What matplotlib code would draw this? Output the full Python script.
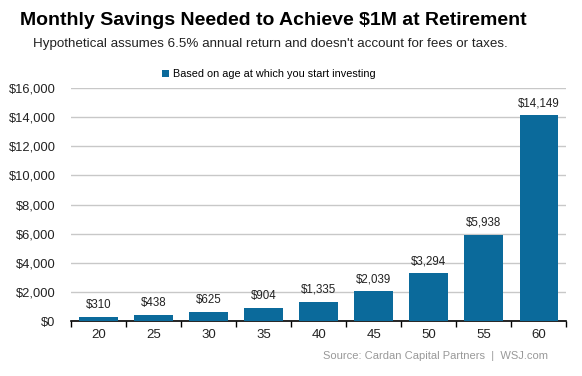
import numpy as np
import matplotlib.pyplot as plt
from matplotlib.ticker import FuncFormatter, FixedLocator

plt.rcParams['font.family'] = ['Liberation Sans', 'DejaVu Sans']

ages = ["20", "25", "30", "35", "40", "45", "50", "55", "60"]
savings = [310, 438, 625, 904, 1335, 2039, 3294, 5938, 14149]
y_ticks = [0, 2000, 4000, 6000, 8000, 10000, 12000, 14000, 16000]

bar_color = "#0b6a9b"

fig = plt.figure(figsize=(5.82, 3.76), dpi=100)
ax = fig.add_axes([0.122, 0.146, 0.851, 0.620])

x = np.arange(len(ages))
bars = ax.bar(x, savings, width=0.7, color=bar_color, zorder=3,
              label="Based on age at which you start investing")

for xi, v in zip(x, savings):
    ax.text(xi, v + 400, f"${v:,}", ha="center", va="bottom", fontsize=8.3, color="#222222")

ax.set_xlim(-0.5, len(ages) - 0.5)
ax.set_ylim(0, 16000)
ax.set_yticks(y_ticks)
ax.yaxis.set_major_formatter(FuncFormatter(lambda v, p: f"${v:,.0f}"))
ax.set_xticks(x)
ax.set_xticklabels(ages)
ax.xaxis.set_minor_locator(FixedLocator(np.arange(-0.5, len(ages), 1.0)))

ax.grid(axis="y", color="#c8c8c8", linewidth=1, zorder=0)
for s in ["top", "right", "left"]:
    ax.spines[s].set_visible(False)
ax.spines["bottom"].set_color("black")
ax.spines["bottom"].set_linewidth(1.2)
ax.tick_params(axis="y", length=0, labelsize=9.3, pad=11, labelcolor="#222222")
ax.tick_params(axis="x", which="major", length=0, labelsize=9.5, pad=6, labelcolor="#222222")
ax.tick_params(axis="x", which="minor", length=4, width=1, color="black")

ax.legend(loc="lower center", bbox_to_anchor=(0.4, 0.995), frameon=False, fontsize=7.8,
          handlelength=0.6, handleheight=0.6, handletextpad=0.4)

fig.text(0.034, 0.945, "Monthly Savings Needed to Achieve $1M at Retirement",
         fontsize=14, fontweight="bold", va="center", ha="left")
fig.text(0.057, 0.883, "Hypothetical assumes 6.5% annual return and doesn't account for fees or taxes.",
         fontsize=9.6, va="center", ha="left", color="#222222")
fig.text(0.942, 0.053, "Source: Cardan Capital Partners  |  WSJ.com",
         fontsize=8, va="center", ha="right", color="#999999")

fig.savefig("out.png", dpi=100)
